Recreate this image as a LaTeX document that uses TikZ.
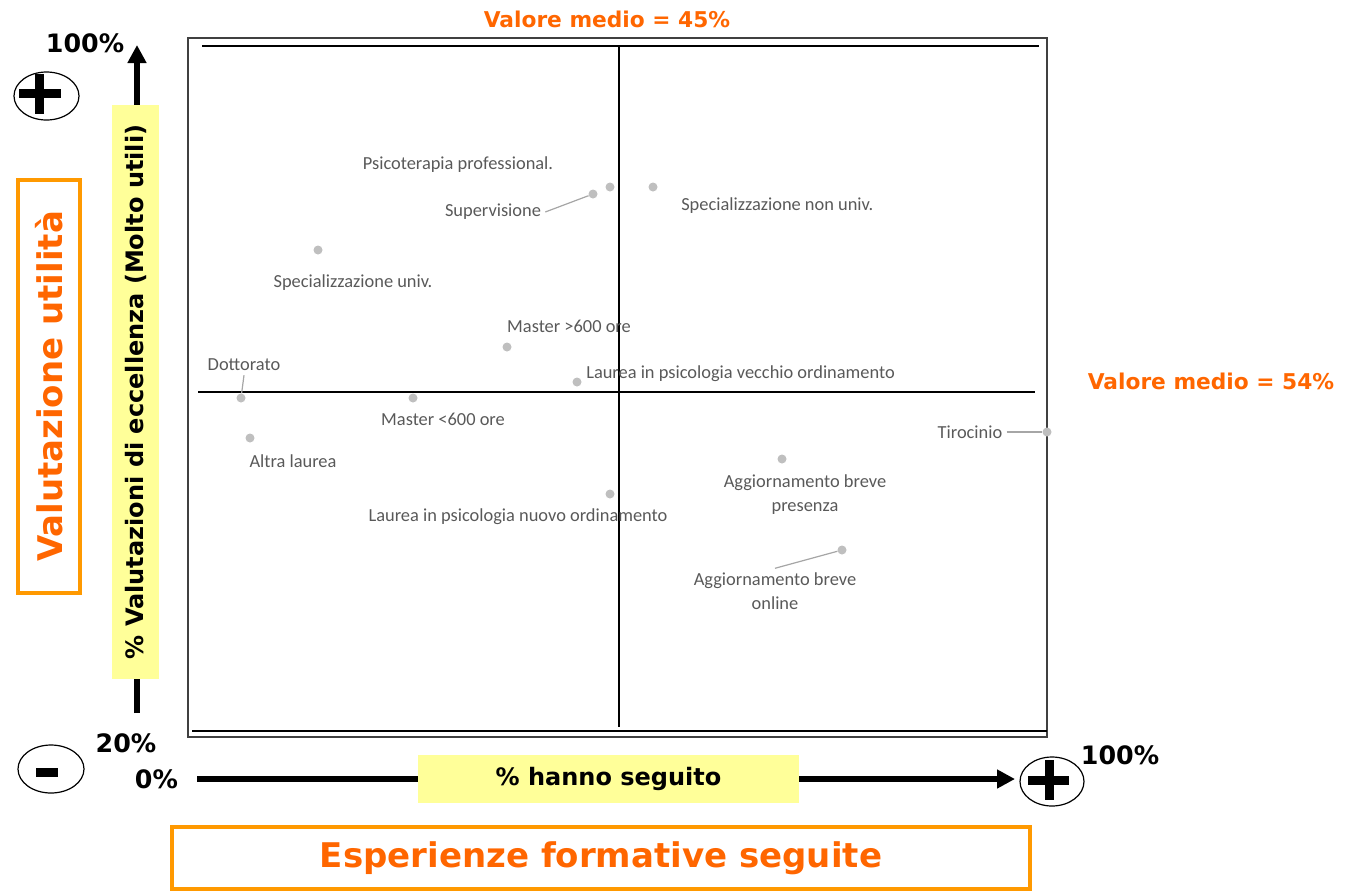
\documentclass[tikz,border=0pt]{standalone}
\usepackage{fontspec}
\setmainfont{Carlito}
\newfontfamily\headfont{DejaVu Sans}
\usetikzlibrary{arrows.meta,shapes.geometric}
\definecolor{medio}{HTML}{FF6600}
\definecolor{boxorange}{HTML}{FF9900}
\definecolor{giallo}{HTML}{FFFF99}
\definecolor{puntogrigio}{HTML}{BFBFBF}
\definecolor{testogrigio}{HTML}{595959}
\definecolor{lineagrigio}{HTML}{A6A6A6}
\tikzset{
  punto/.style={circle, fill=puntogrigio, inner sep=0pt, minimum size=6.75pt},
  etichetta/.style={text=testogrigio, font=\fontsize{13.8}{18}\selectfont, inner sep=3pt, align=center},
  guida/.style={draw=lineagrigio, line width=0.9pt},
  asse/.style={font=\headfont\bfseries\fontsize{19}{22}\selectfont, inner sep=0pt},
  assetesto/.style={font=\headfont\bfseries\fontsize{18}{22}\selectfont, fill=giallo, inner sep=0pt},
  valmedio/.style={font=\headfont\bfseries\fontsize{16.3}{20}\selectfont, text=medio, inner sep=0pt},
  titolo/.style={font=\headfont\bfseries\fontsize{25.5}{30}\selectfont, text=medio, draw=boxorange, line width=3pt},
  freccia/.style={line width=4.5pt, -{Triangle[length=13.5pt,width=13.5pt]}},
  segno/.style={ellipse, draw, line width=0.9pt, inner sep=0pt}
}
\begin{document}
\begin{tikzpicture}[x=0.75pt, y=-0.75pt]
\useasboundingbox (0,0) rectangle (1345,893);
% quadrante
\draw[line width=1.2pt, draw=black!75] (188,38) rectangle (1047,737);
\draw[line width=1.1pt] (202,46) -- (1039,46);
\draw[line width=1.1pt] (192,731) -- (1047,731);
\draw[line width=1.1pt] (619,46) -- (619,727);
\draw[line width=1.1pt] (198,392) -- (1035,392);
\node[valmedio] (mediox) at (607,19) {Valore medio = 45\%};
\node[valmedio] (medioy) at (1211,381) {Valore medio = 54\%};
% punti
\node[punto] (psicoterapia) at (610,187) {};
\node[punto] (supervisione) at (593,194) {};
\node[punto] (specnonuniv) at (653,187) {};
\node[punto] (specuniv) at (318,250) {};
\node[punto] (master600p) at (507,347) {};
\node[punto] (vecchioord) at (577,382) {};
\node[punto] (dottorato) at (241,398) {};
\node[punto] (master600m) at (413,398) {};
\node[punto] (altralaurea) at (250,438) {};
\node[punto] (tirocinio) at (1047,432) {};
\node[punto] (aggpresenza) at (782,459) {};
\node[punto] (nuovoord) at (610,494) {};
\node[punto] (aggonline) at (842,550) {};
% etichette
\node[etichetta] (psicoterapia-l) at (458,165) {Psicoterapia professional.};
\node[etichetta] (supervisione-l) at (493,212) {Supervisione};
\node[etichetta, anchor=west] (specnonuniv-l) at (677,206) {Specializzazione non univ.};
\node[etichetta] (specuniv-l) at (353,283) {Specializzazione univ.};
\node[etichetta] (master600p-l) at (569,326) {Master >600 ore};
\node[etichetta, anchor=west] (vecchioord-l) at (582,374) {Laurea in psicologia vecchio ordinamento};
\node[etichetta] (dottorato-l) at (244,365) {Dottorato};
\node[etichetta] (master600m-l) at (443,419) {Master <600 ore};
\node[etichetta] (altralaurea-l) at (293,461) {Altra laurea};
\node[etichetta] (tirocinio-l) at (970,432) {Tirocinio};
\node[etichetta] (aggpresenza-l) at (805,495) {Aggiornamento breve\\presenza};
\node[etichetta] (nuovoord-l) at (518,517) {Laurea in psicologia nuovo ordinamento};
\node[etichetta] (aggonline-l) at (775,591) {Aggiornamento breve\\online};
\draw[guida] (supervisione-l.east) -- (supervisione);
\draw[guida] (dottorato-l.south) -- (dottorato);
\draw[guida] (tirocinio-l.east) -- (tirocinio);
\draw[guida] (aggonline-l.north) -- (aggonline);
% assi
\coordinate (ybase) at (137,713);
\coordinate (ytop) at (137,45);
\draw[freccia] (ybase) -- (ytop);
\coordinate (xbase) at (197,779);
\coordinate (xtop) at (1015,779);
\draw[freccia] (xbase) -- (xtop);
\node[assetesto, rotate=90, minimum width=430.5pt, minimum height=35.25pt] (yasse) at (135.5,392) {\% Valutazioni di eccellenza (Molto utili)};
\node[assetesto, minimum width=285.75pt, minimum height=36pt] (xasse) at (608.5,779) {\% hanno seguito};
\node[asse] (y100) at (85,43) {100\%};
\node[asse] (y20) at (126,743) {20\%};
\node[asse] (x0) at (156.5,779) {0\%};
\node[asse] (x100) at (1120,755) {100\%};
% titoli
\node[titolo, rotate=90, minimum width=309.75pt, minimum height=46.5pt] (tity) at (49,386.5) {Valutazione utilità};
\node[titolo, minimum width=643.5pt, minimum height=46.5pt] (titx) at (601,858) {Esperienze formative seguite};
% segni
\node[segno, minimum width=48.75pt, minimum height=36pt] (piusu) at (46.5,96) {};
\draw[line width=6.75pt] (19,93.5) -- (61,93.5) (39.5,74) -- (39.5,114);
\node[segno, minimum width=49.5pt, minimum height=36pt] (meno) at (51,769) {};
\fill (36,768) rectangle (58,777);
\node[segno, minimum width=48pt, minimum height=36.75pt] (piudx) at (1052,781.5) {};
\draw[line width=6.75pt] (1028,780.5) -- (1069,780.5) (1049.5,760) -- (1049.5,800);
\end{tikzpicture}
\end{document}
